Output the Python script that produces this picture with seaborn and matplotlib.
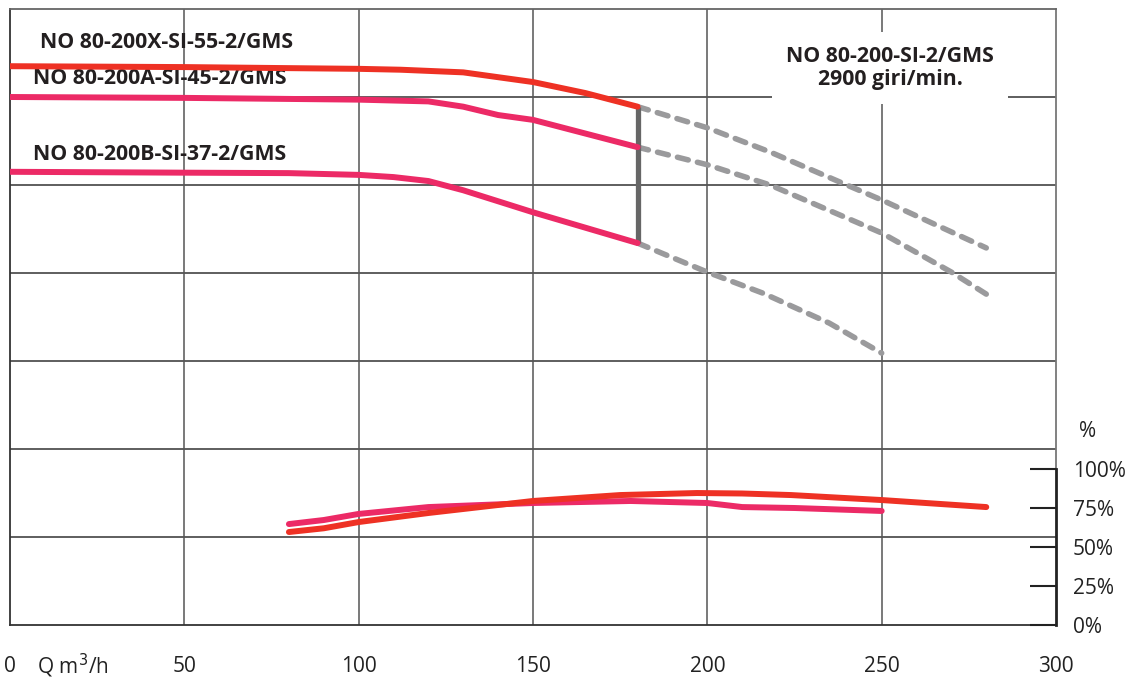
import matplotlib
matplotlib.use('Agg')
import matplotlib.pyplot as plt
import matplotlib.ticker as mticker
import seaborn as sns
import pandas as pd

sns.set_style('white')
plt.rcParams['font.family'] = ['Open Sans', 'DejaVu Sans']

# head curves (Q m3/h -> H, grid units of 10)
q_x = [0, 50, 100, 112, 130, 150, 165, 180]
h_x = [63.5, 63.4, 63.2, 63.1, 62.8, 61.7, 60.45, 58.9]
q_a = [0, 50, 100, 120, 130, 140, 150, 180]
h_a = [60.0, 59.9, 59.7, 59.5, 58.9, 57.95, 57.4, 54.3]
q_b = [0, 50, 80, 100, 110, 120, 130, 150, 180]
h_b = [51.5, 51.4, 51.35, 51.15, 50.9, 50.45, 49.4, 46.9, 43.4]

# dashed extensions
qd_x = [180, 200, 218, 240, 250, 280]
hd_x = [58.9, 56.5, 53.75, 50.0, 48.3, 42.85]
qd_a = [180, 200, 218, 250, 270, 280]
hd_a = [54.3, 52.3, 50.0, 44.55, 40.1, 37.6]
qd_b = [180, 200, 216, 235, 250]
hd_b = [43.4, 40.1, 37.7, 34.3, 30.9]

# efficiency curves (%)
qe_x = [80, 90, 100, 120, 150, 175, 197, 210, 224, 250, 280]
eff_x = [59.6, 62.0, 66.0, 71.8, 79.5, 83.3, 84.6, 84.3, 83.3, 80.1, 75.6]
qe_a = [80, 90, 100, 120, 150, 178, 200, 210, 225, 250]
eff_a = [64.7, 67.3, 71.2, 75.6, 78.2, 79.5, 78.2, 75.6, 75.0, 73.1]

xticks = [0, 50, 100, 150, 200, 250, 300]
pct_ticks = [0, 25, 50, 75, 100]

RED = '#EE3124'
PINK = '#EC2A66'
GRAY = '#9A9A9C'

fig = plt.figure(figsize=(11.34, 6.8), dpi=100)
ax = fig.add_axes([10 / 1134, 55 / 680, 1046 / 1134, 616 / 680])

ax.set_xlim(0, 300)
ax.set_ylim(0, 70)
ax.set_xticks(xticks)
ax.set_yticks(range(0, 71, 10))
ax.set_yticklabels([])
ax.tick_params(axis='x', length=0, pad=22, labelsize=15, labelcolor='#222222')
ax.tick_params(axis='y', length=0)
for y in range(10, 70, 10):
    ax.axhline(y, color='#333333', lw=1.1, zorder=0)
for x in xticks[1:-1]:
    ax.axvline(x, color='#555555', lw=1.1, zorder=0)

for s in ['left', 'bottom']:
    ax.spines[s].set_color('#333333')
    ax.spines[s].set_linewidth(1.3)
ax.spines['top'].set_color('#666666')
ax.spines['top'].set_linewidth(1.3)
ax.spines['right'].set_color('#777777')
ax.spines['right'].set_linewidth(1.3)
ax.spines['right'].set_bounds(17.7, 70)

solid = dict(lw=4.3, solid_capstyle='round', zorder=4, ax=ax, legend=False)
sns.lineplot(data=pd.DataFrame({'q': q_x, 'h': h_x}), x='q', y='h', color=RED, **solid)
sns.lineplot(data=pd.DataFrame({'q': q_a, 'h': h_a}), x='q', y='h', color=PINK, **solid)
sns.lineplot(data=pd.DataFrame({'q': q_b, 'h': h_b}), x='q', y='h', color=PINK, **solid)

for qq, hh in [(qd_x, hd_x), (qd_a, hd_a), (qd_b, hd_b)]:
    sns.lineplot(data=pd.DataFrame({'q': qq, 'h': hh}), x='q', y='h', color=GRAY, lw=4.0,
                 dashes=False, ax=ax, legend=False, zorder=3)
    ax.lines[-1].set_dashes((2.0, 1.7))
    ax.lines[-1].set_dash_capstyle('round')

# vertical limit line at end of solid curves
ax.vlines(q_x[-1], h_b[-1], h_x[-1], color='#666666', lw=3.8, zorder=3)

ax.set_xlabel('')
ax.set_ylabel('')

lab = dict(fontsize=15.3, fontweight='bold', color='#231F20', va='center', ha='left')
ax.text(8.6, 66.25, 'NO 80-200X-SI-55-2/GMS', **lab)
ax.text(6.6, 62.05, 'NO 80-200A-SI-45-2/GMS', **lab)
ax.text(6.6, 53.5, 'NO 80-200B-SI-37-2/GMS', **lab)
ax.text(252.4, 63.3, 'NO 80-200-SI-2/GMS\n2900 giri/min.', fontsize=15.3, fontweight='bold',
        color='#231F20', ha='center', va='center', linespacing=1.1, zorder=5,
        bbox=dict(facecolor='white', edgecolor='none', pad=10))

ax.text(18, -4.7, 'Q m$^3$/h', fontsize=15, color='#222222', ha='center', va='center')

# efficiency axis
ax2 = ax.twinx()
ax2.set_ylim(0, 616 / 1.56)
ax2.set_yticks(pct_ticks)
ax2.yaxis.set_major_formatter(mticker.FuncFormatter(lambda v, p: '%d%%' % v))
ax2.tick_params(axis='y', direction='in', length=19, width=1.5, pad=12,
                labelsize=15, labelcolor='#222222', color='#222222')
for s in ['left', 'top', 'bottom']:
    ax2.spines[s].set_visible(False)
ax2.spines['right'].set_bounds(0, 100)
ax2.spines['right'].set_color('#222222')
ax2.spines['right'].set_linewidth(2)
ax2.text(1.03, 124, '%', transform=ax2.get_yaxis_transform(), fontsize=15,
         color='#222222', ha='center', va='center')

eff = dict(lw=4.3, solid_capstyle='round', ax=ax2, legend=False)
sns.lineplot(data=pd.DataFrame({'q': qe_a, 'e': eff_a}), x='q', y='e', color=PINK, **eff)
sns.lineplot(data=pd.DataFrame({'q': qe_x, 'e': eff_x}), x='q', y='e', color=RED, **eff)
ax2.set_xlabel('')
ax2.set_ylabel('')

fig.savefig('out.png', dpi=100)
